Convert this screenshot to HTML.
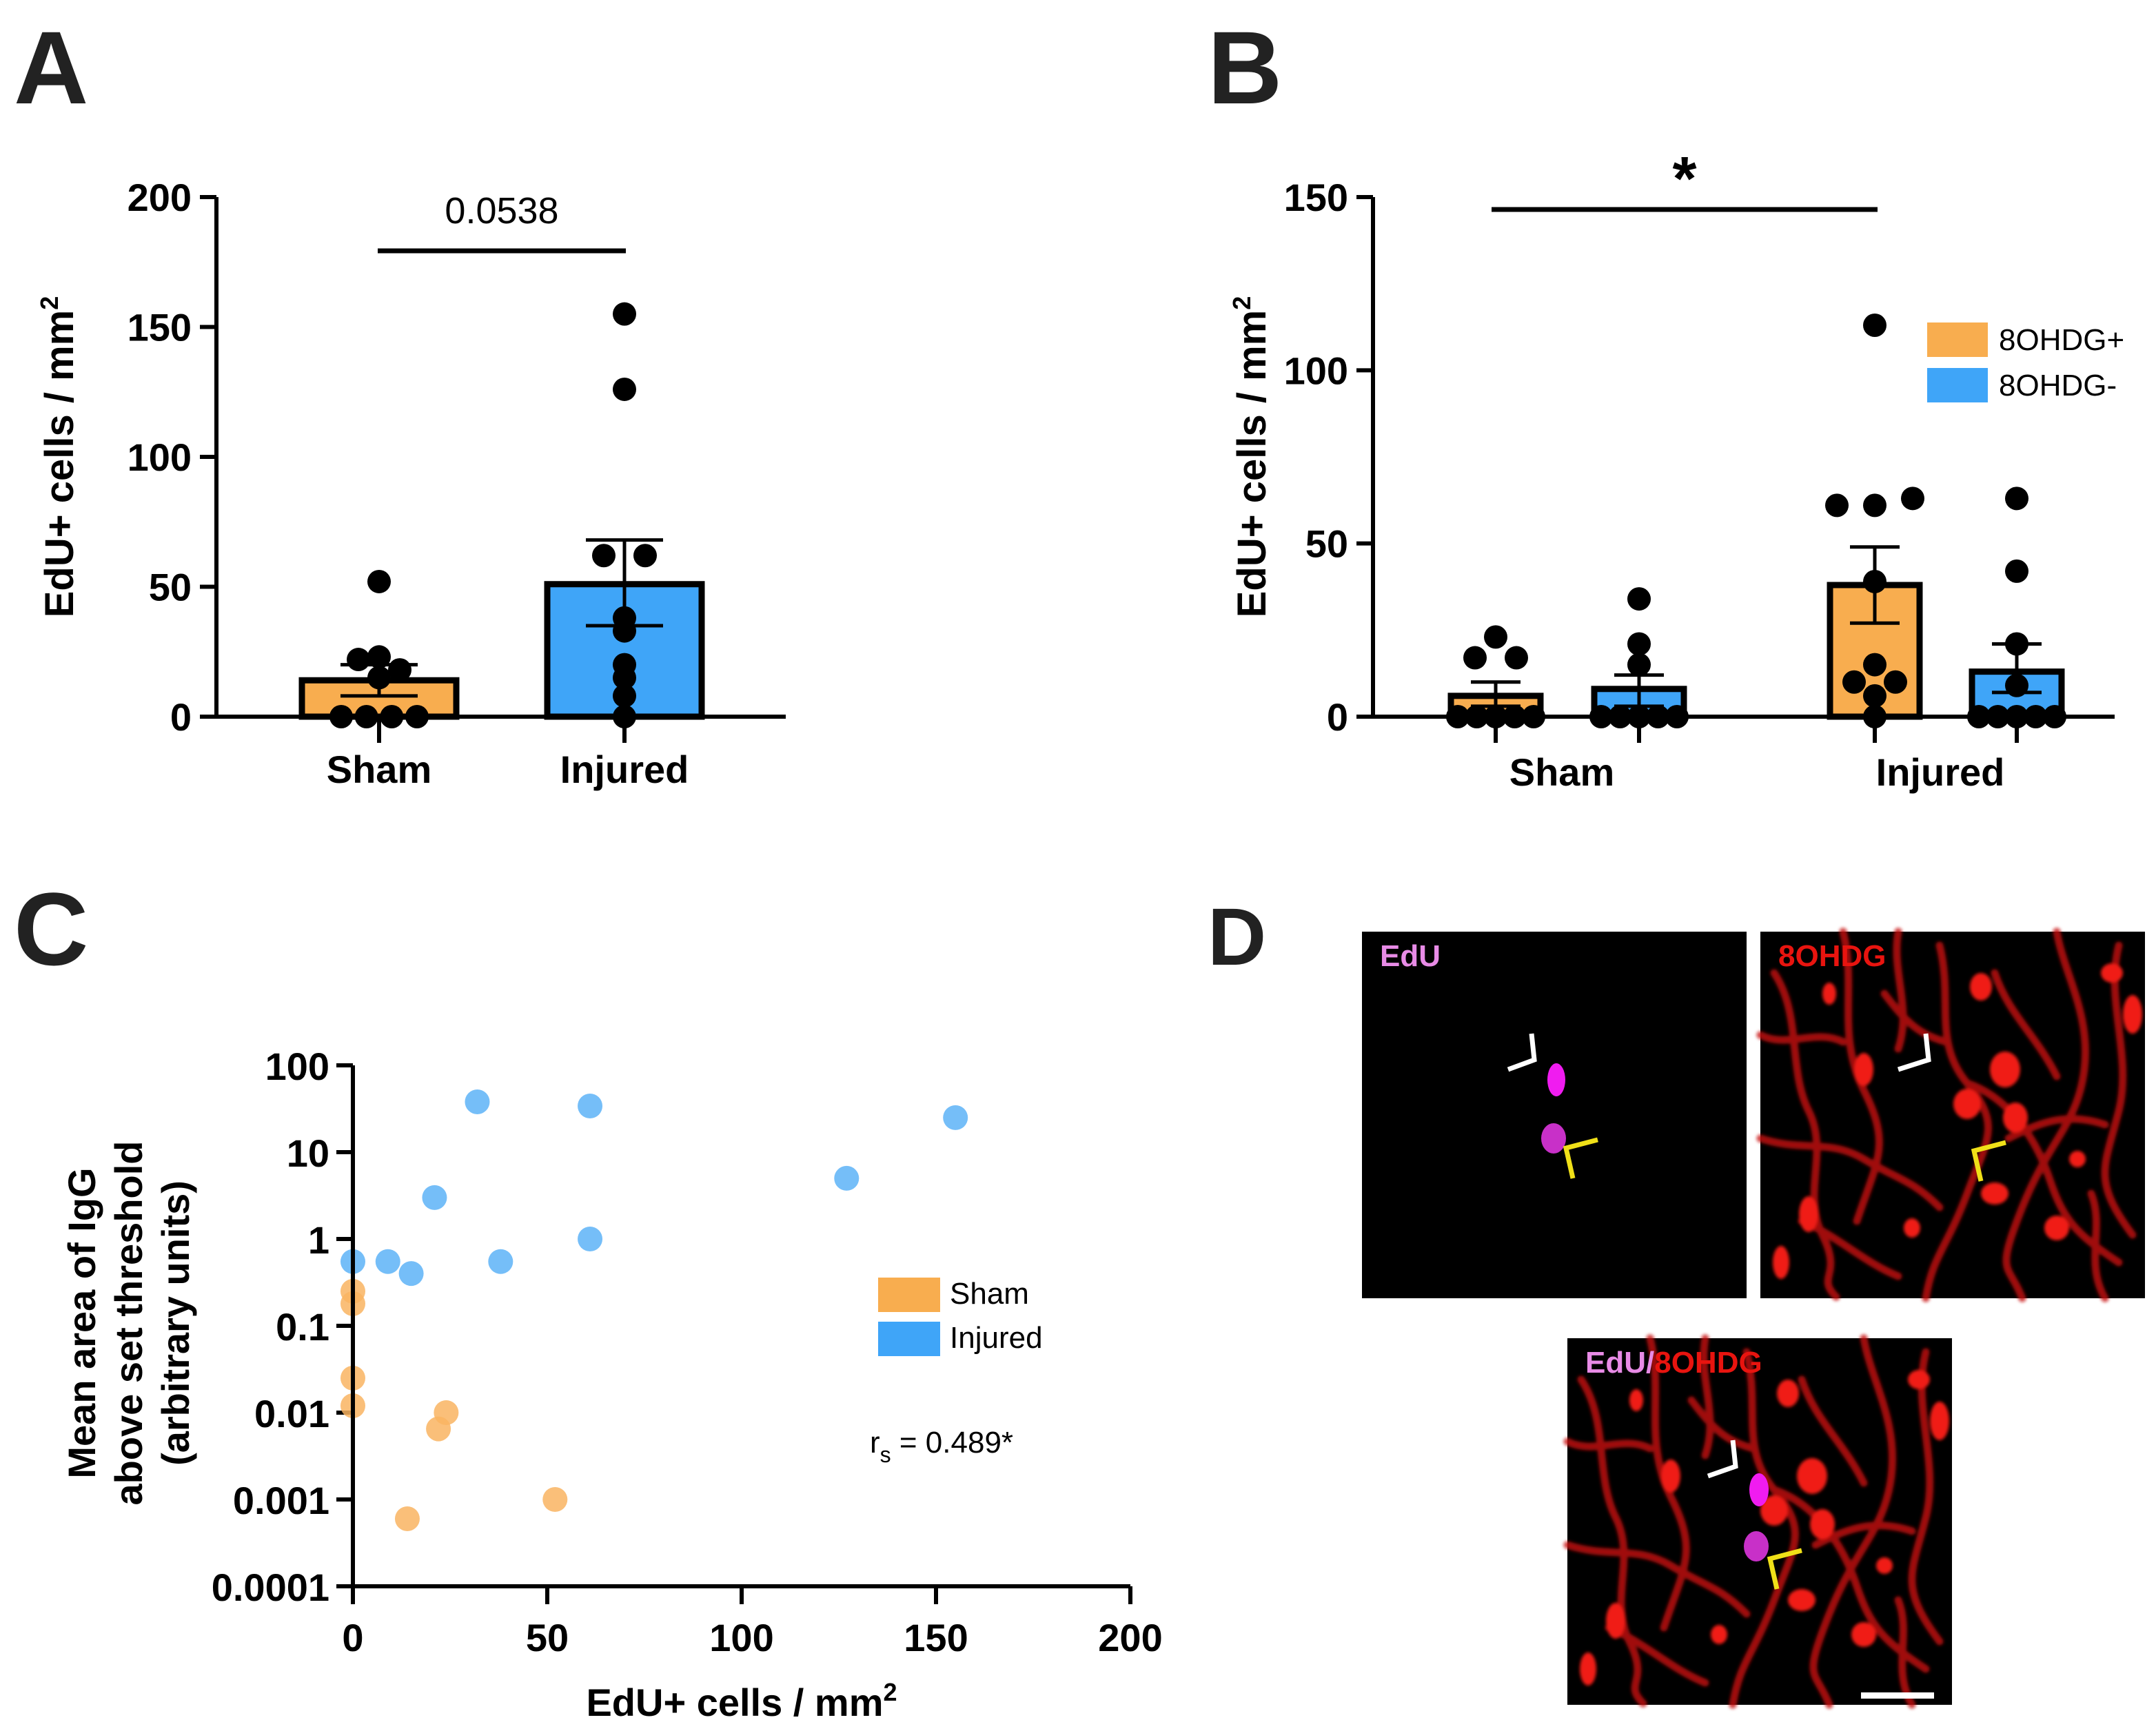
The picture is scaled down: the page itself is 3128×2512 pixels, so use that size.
<!DOCTYPE html>
<html><head><meta charset="utf-8">
<style>
html,body{margin:0;padding:0;background:#fff;}
svg{display:block;}
text{font-family:"Liberation Sans",Arial,sans-serif;}
</style></head>
<body>
<svg id="fig" xmlns="http://www.w3.org/2000/svg" width="3128" height="2512" viewBox="0 0 3128 2512">
<rect width="3128" height="2512" fill="#fff"/>
<g id="panelA"></g>
<g id="panelB"></g>
<g id="panelC"></g>
<g id="panelD">
  <defs>
    <filter id="soft"><feGaussianBlur stdDeviation="2.5"/></filter>
    <g id="redTex">
      <rect width="558" height="532" fill="#000"/>
      <g filter="url(#soft)">
      <g fill="none" stroke="#c8120c" stroke-width="11" stroke-linecap="round" opacity="0.8">
        <path d="M20,60 C60,120 40,200 70,260 S60,380 90,440 S80,500 110,530"/>
        <path d="M120,0 C140,80 110,150 150,230 S170,330 140,420"/>
        <path d="M260,20 C280,100 250,160 300,220 S330,300 300,380 S250,470 240,532"/>
        <path d="M300,220 C360,240 400,300 420,360 S460,440 520,480"/>
        <path d="M430,0 C440,60 480,120 470,200 S420,300 380,400 S360,480 380,532"/>
        <path d="M520,20 C500,100 540,180 520,260 S480,360 540,440"/>
        <path d="M0,300 C60,320 100,300 150,330 S220,360 260,400"/>
        <path d="M180,90 C210,130 230,150 270,160"/>
        <path d="M340,60 C360,120 400,150 430,210"/>
        <path d="M60,420 C110,440 150,480 200,500"/>
        <path d="M360,300 C400,280 440,260 500,280"/>
        <path d="M200,0 C190,60 220,110 200,170"/>
        <path d="M480,380 C500,430 470,480 500,532"/>
        <path d="M0,150 C40,170 80,140 120,160"/>
      </g>
      <g fill="#f01a12">
        <ellipse cx="355" cy="200" rx="22" ry="26"/>
        <ellipse cx="300" cy="250" rx="20" ry="22"/>
        <ellipse cx="370" cy="270" rx="18" ry="22"/>
        <ellipse cx="150" cy="200" rx="14" ry="24"/>
        <ellipse cx="70" cy="410" rx="14" ry="26"/>
        <ellipse cx="340" cy="380" rx="20" ry="16"/>
        <ellipse cx="430" cy="430" rx="18" ry="18"/>
        <ellipse cx="320" cy="80" rx="16" ry="20"/>
        <ellipse cx="30" cy="480" rx="12" ry="24"/>
        <ellipse cx="540" cy="120" rx="14" ry="28"/>
        <ellipse cx="220" cy="430" rx="12" ry="14"/>
        <ellipse cx="460" cy="330" rx="12" ry="12"/>
        <ellipse cx="510" cy="60" rx="16" ry="14"/>
        <ellipse cx="100" cy="90" rx="10" ry="16"/>
      </g>
      </g>
    </g>
  </defs>
  <text x="1752" y="1400" font-size="118" font-weight="bold" fill="#222">D</text>
  <g transform="translate(1976,1352)">
    <rect width="558" height="532" fill="#000"/>
    <text x="26" y="50" font-size="44" font-weight="bold" fill="#e88be6">EdU</text>
    <polyline points="212,200 250,186 246,148" fill="none" stroke="#fff" stroke-width="7"/>
    <ellipse cx="282" cy="215" rx="13" ry="24" fill="#f01cf0"/>
    <ellipse cx="278" cy="300" rx="18" ry="22" fill="#c830c8"/>
    <polyline points="306,358 296,314 342,302" fill="none" stroke="#f0e018" stroke-width="7"/>
  </g>
  <g transform="translate(2554,1352)">
    <use href="#redTex"/>
    <text x="26" y="50" font-size="44" font-weight="bold" fill="#e8140f">8OHDG</text>
    <polyline points="200,200 244,186 240,148" fill="none" stroke="#fff" stroke-width="7"/>
    <polyline points="320,362 310,318 356,306" fill="none" stroke="#f0e018" stroke-width="7"/>
  </g>
  <g transform="translate(2274,1942)">
    <use href="#redTex"/>
    <text x="26" y="50" font-size="44" font-weight="bold"><tspan fill="#e88be6">EdU/</tspan><tspan fill="#e8140f">8OHDG</tspan></text>
    <polyline points="204,200 244,186 240,148" fill="none" stroke="#fff" stroke-width="7"/>
    <ellipse cx="278" cy="220" rx="14" ry="24" fill="#f01cf0"/>
    <ellipse cx="274" cy="302" rx="18" ry="22" fill="#c830c8"/>
    <polyline points="304,364 294,320 340,308" fill="none" stroke="#f0e018" stroke-width="7"/>
    <rect x="426" y="514" width="106" height="9" fill="#fff"/>
  </g>
</g>
</svg>
<script>
// ---------- Panel A data ----------
const aCategories = ["Sham", "Injured"];
const aMeans = [14, 51];
const aSemLow = [8, 35];
const aSemHigh = [20, 68];
const aShamPoints = [0, 0, 0, 0, 22, 23, 18, 15, 52];
const aInjuredPoints = [155, 126, 62, 62, 38, 33, 20, 15, 8, 0];
const aYTicks = [0, 50, 100, 150, 200];
const aPValue = "0.0538";
// ---------- Panel B data ----------
const bGroups = ["Sham", "Injured"];
const bSeries = ["8OHDG+", "8OHDG-"];
const bMeans = [6, 8, 38, 13];
const bSemLow = [3, 3, 27, 7];
const bSemHigh = [10, 12, 49, 21];
const bShamPos = [0, 0, 0, 0, 0, 17, 17, 23];
const bShamNeg = [0, 0, 0, 0, 0, 15, 21, 34];
const bInjPos = [113, 61, 61, 63, 39, 15, 10, 10, 6, 0];
const bInjNeg = [63, 42, 21, 9, 0, 0, 0, 0, 0];
const bYTicks = [0, 50, 100, 150];
// ---------- Panel C data ----------
const cInjuredX = [0, 9, 15, 21, 32, 38, 61, 61, 127, 155];
const cInjuredY = [0.55, 0.55, 0.4, 3, 38, 0.55, 34, 1, 5, 25];
const cShamX = [0, 0, 0, 0, 14, 22, 24, 52];
const cShamY = [0.25, 0.18, 0.025, 0.012, 0.0006, 0.0065, 0.01, 0.001];
const cXTicks = [0, 50, 100, 150, 200];
const cYTicks = [100, 10, 1, 0.1, 0.01, 0.001, 0.0001];
const cYTickLabels = ["100", "10", "1", "0.1", "0.01", "0.001", "0.0001"];

const NS = "http://www.w3.org/2000/svg";
const ORANGE = "#f8ad4f", BLUE = "#3fa5f8";
function mk(parent, tag, attrs, text) {
  const e = document.createElementNS(NS, tag);
  for (const k in attrs) e.setAttribute(k, attrs[k]);
  if (text !== undefined) e.textContent = text;
  parent.appendChild(e);
  return e;
}
function dotXs(n, cx, spread) {
  const out = [];
  for (let i = 0; i < n; i++) out.push(n === 1 ? cx : cx - spread + (2 * spread * i) / (n - 1));
  return out;
}
function spreadPoints(vals, cx, yf, spread) {
  const res = [];
  const groups = {};
  vals.forEach((v, i) => { const k = Math.round(yf(v) / 22); (groups[k] = groups[k] || []).push(i); });
  Object.values(groups).forEach(idx => {
    const xs = dotXs(idx.length, cx, Math.min(spread, (idx.length - 1) * 30));
    idx.forEach((i, j) => res.push([xs[j], yf(vals[i])]));
  });
  return res;
}

// ================= Panel A =================
(function () {
  const g = document.getElementById("panelA");
  const x0 = 314, x1 = 1140, yBase = 1040, yTop = 286;
  const y = v => yBase - (v / 200) * (yBase - yTop);
  const lbl = mk(g, "text", { x: 20, y: 150, "font-size": 150, "font-weight": "bold", fill: "#222" }, "A");
  
  
  const t = mk(g, "text", { transform: "translate(106,663) rotate(-90)", "text-anchor": "middle", "font-size": 58, "font-weight": "bold" });
  
  
  t.innerHTML = 'EdU+ cells / mm<tspan dy="-22" font-size="36">2</tspan>';
  aYTicks.forEach(v => {
    const tk = mk(g, "line", { x1: 290, x2: x0, y1: y(v), y2: y(v), stroke: "#000", "stroke-width": 6 });
    
    
    const tl = mk(g, "text", { x: 278, y: y(v) + 20, "text-anchor": "end", "font-size": 56, "font-weight": "bold" }, String(v));
    
    
  });
  const centers = [550, 906], bw = 224;
  const pts = [aShamPoints, aInjuredPoints];
  const cols = [ORANGE, BLUE];
  aCategories.forEach((c, i) => {
    const b = mk(g, "rect", { x: centers[i] - bw / 2, y: y(aMeans[i]), width: bw, height: yBase - y(aMeans[i]), fill: cols[i], stroke: "#000", "stroke-width": 9 });
    
    
    const eb = mk(g, "path", { d: `M${centers[i]},${y(aSemLow[i])}V${y(aSemHigh[i])}M${centers[i] - 56},${y(aSemHigh[i])}h112M${centers[i] - 56},${y(aSemLow[i])}h112`, stroke: "#000", "stroke-width": 5, fill: "none" });
    
    
    spreadPoints(pts[i], centers[i], y, 55).forEach(p => {
      const d = mk(g, "circle", { cx: p[0], cy: p[1], r: 17, fill: "#000" });
      
      
    });
    const tk = mk(g, "line", { x1: centers[i], x2: centers[i], y1: yBase, y2: yBase + 38, stroke: "#000", "stroke-width": 6 });
    
    
    const cl = mk(g, "text", { x: centers[i], y: 1136, "text-anchor": "middle", "font-size": 56, "font-weight": "bold" }, c);
    
    
  });
  const ax = mk(g, "path", { d: `M${x0},${yTop}V${yBase}H${x1}`, stroke: "#000", "stroke-width": 6, fill: "none" });
  
  
  const sl = mk(g, "line", { x1: 548, x2: 908, y1: 364, y2: 364, stroke: "#000", "stroke-width": 7 });
  
  
  const pv = mk(g, "text", { x: 728, y: 324, "text-anchor": "middle", "font-size": 54 }, aPValue);
  
  
})();

// ================= Panel B =================
(function () {
  const g = document.getElementById("panelB");
  const x0 = 1992, x1 = 3068, yBase = 1040, yTop = 286;
  const y = v => yBase - (v / 150) * (yBase - yTop);
  const lbl = mk(g, "text", { x: 1752, y: 150, "font-size": 150, "font-weight": "bold", fill: "#222" }, "B");
  
  
  const t = mk(g, "text", { transform: "translate(1836,663) rotate(-90)", "text-anchor": "middle", "font-size": 58, "font-weight": "bold" });
  
  
  t.innerHTML = 'EdU+ cells / mm<tspan dy="-22" font-size="36">2</tspan>';
  bYTicks.forEach(v => {
    const tk = mk(g, "line", { x1: 1968, x2: x0, y1: y(v), y2: y(v), stroke: "#000", "stroke-width": 6 });
    
    
    const tl = mk(g, "text", { x: 1956, y: y(v) + 20, "text-anchor": "end", "font-size": 56, "font-weight": "bold" }, String(v));
    
    
  });
  const centers = [2170, 2378, 2720, 2926], bw = 130;
  const pts = [bShamPos, bShamNeg, bInjPos, bInjNeg];
  const cols = [ORANGE, BLUE, ORANGE, BLUE];
  centers.forEach((cx, i) => {
    const b = mk(g, "rect", { x: cx - bw / 2, y: y(bMeans[i]), width: bw, height: yBase - y(bMeans[i]), fill: cols[i], stroke: "#000", "stroke-width": 9 });
    
    
    const eb = mk(g, "path", { d: `M${cx},${y(bSemLow[i])}V${y(bSemHigh[i])}M${cx - 36},${y(bSemHigh[i])}h72M${cx - 36},${y(bSemLow[i])}h72`, stroke: "#000", "stroke-width": 5, fill: "none" });
    
    
    spreadPoints(pts[i], cx, y, 55).forEach(p => {
      const d = mk(g, "circle", { cx: p[0], cy: p[1], r: 17, fill: "#000" });
      
      
    });
    const tk = mk(g, "line", { x1: cx, x2: cx, y1: yBase, y2: yBase + 38, stroke: "#000", "stroke-width": 6 });
    
    
  });
  bGroups.forEach((c, j) => {
    const cl = mk(g, "text", { x: (centers[2 * j] + centers[2 * j + 1]) / 2 - 8, y: 1140, "text-anchor": "middle", "font-size": 56, "font-weight": "bold" }, c);
    
    
  });
  const ax = mk(g, "path", { d: `M${x0},${yTop}V${yBase}H${x1}`, stroke: "#000", "stroke-width": 6, fill: "none" });
  
  
  const sl = mk(g, "line", { x1: 2164, x2: 2724, y1: 304, y2: 304, stroke: "#000", "stroke-width": 7 });
  
  
  const st = mk(g, "text", { x: 2444, y: 290, "text-anchor": "middle", "font-size": 90, "font-weight": "bold" }, "*");
  
  
  bSeries.forEach((s, i) => {
    const sw = mk(g, "rect", { x: 2796, y: 468 + i * 66, width: 88, height: 50, fill: i ? BLUE : ORANGE });
    
    
    const lt = mk(g, "text", { x: 2900, y: 508 + i * 66, "font-size": 44 }, s);
    
    
  });
})();

// ================= Panel C =================
(function () {
  const g = document.getElementById("panelC");
  const x0 = 512, x1 = 1640, yTop = 1546, yBot = 2302;
  const x = v => x0 + (v / 200) * (x1 - x0);
  const y = v => yBot - ((Math.log10(v) + 4) / 6) * (yBot - yTop);
  const lbl = mk(g, "text", { x: 20, y: 1400, "font-size": 150, "font-weight": "bold", fill: "#222" }, "C");
  
  
  const yt = mk(g, "text", { transform: "translate(0,1920) rotate(-90)", "text-anchor": "middle", "font-size": 56, "font-weight": "bold" });
  
  
  yt.innerHTML = '<tspan x="0" y="138">Mean area of IgG</tspan><tspan x="0" y="206">above set threshold</tspan><tspan x="0" y="274">(arbitrary units)</tspan>';
  cYTicks.forEach((v, i) => {
    const tk = mk(g, "line", { x1: 488, x2: x0, y1: y(v), y2: y(v), stroke: "#000", "stroke-width": 6 });
    
    
    const tl = mk(g, "text", { x: 478, y: y(v) + 21, "text-anchor": "end", "font-size": 56, "font-weight": "bold" }, cYTickLabels[i]);
    
    
  });
  cXTicks.forEach(v => {
    const tk = mk(g, "line", { x1: x(v), x2: x(v), y1: yBot, y2: yBot + 26, stroke: "#000", "stroke-width": 6 });
    
    
    const tl = mk(g, "text", { x: x(v), y: 2396, "text-anchor": "middle", "font-size": 56, "font-weight": "bold" }, String(v));
    
    
  });
  const xt = mk(g, "text", { x: 1076, y: 2490, "text-anchor": "middle", "font-size": 56, "font-weight": "bold" });
  
  
  xt.innerHTML = 'EdU+ cells / mm<tspan dy="-22" font-size="36">2</tspan>';
  cShamX.forEach((v, i) => {
    const d = mk(g, "circle", { cx: x(v), cy: y(cShamY[i]), r: 18, fill: "#f9b462", opacity: 0.85 });
    
    
  });
  cInjuredX.forEach((v, i) => {
    const d = mk(g, "circle", { cx: x(v), cy: y(cInjuredY[i]), r: 18, fill: "#5db3f7", opacity: 0.85 });
    
    
  });
  const ax = mk(g, "path", { d: `M${x0},${yTop}V${yBot}H${x1}`, stroke: "#000", "stroke-width": 6, fill: "none" });
  
  
  ["Sham", "Injured"].forEach((s, i) => {
    const sw = mk(g, "rect", { x: 1274, y: 1854 + i * 64, width: 90, height: 50, fill: i ? BLUE : ORANGE });
    
    
    const lt = mk(g, "text", { x: 1378, y: 1892 + i * 64, "font-size": 44 }, s);
    
    
  });
  const rs = mk(g, "text", { x: 1262, y: 2108, "font-size": 44 });
  
  
  rs.innerHTML = 'r<tspan dy="14" font-size="32">s</tspan><tspan dy="-14"> = 0.489*</tspan>';
})();
</script>
</body></html>
